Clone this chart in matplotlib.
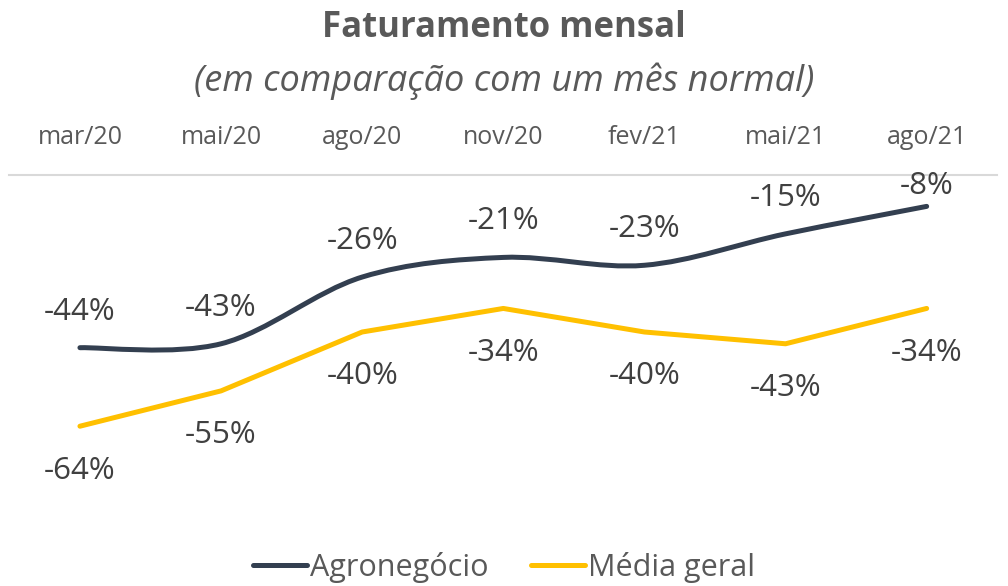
import matplotlib.pyplot as plt
from matplotlib.path import Path
from matplotlib.patches import PathPatch
from matplotlib.lines import Line2D

meses = ["mar/20", "mai/20", "ago/20", "nov/20", "fev/21", "mai/21", "ago/21"]
agro = [-44, -43, -26, -21, -23, -15, -8]
media = [-64, -55, -40, -34, -40, -43, -34]

COR_AGRO = "#333F50"
COR_MEDIA = "#FFC000"
COR_TEXTO = "#404040"
COR_CINZA = "#595959"

plt.rcParams["font.family"] = ["Open Sans", "DejaVu Sans"]


def curva_suave(xs, ys):
    # spline tipo Catmull-Rom convertida em Bezier (como a linha suavizada do Excel)
    pts = list(zip(xs, ys))
    n = len(pts)
    verts = [pts[0]]
    codes = [Path.MOVETO]
    for i in range(n - 1):
        p0 = pts[i - 1] if i > 0 else pts[i]
        p1 = pts[i]
        p2 = pts[i + 1]
        p3 = pts[i + 2] if i + 2 < n else pts[i + 1]
        c1 = (p1[0] + (p2[0] - p0[0]) / 6, p1[1] + (p2[1] - p0[1]) / 6)
        c2 = (p2[0] - (p3[0] - p1[0]) / 6, p2[1] - (p3[1] - p1[1]) / 6)
        verts += [c1, c2, p2]
        codes += [Path.CURVE4] * 3
    return Path(verts, codes)


fig = plt.figure(figsize=(10.08, 5.86), dpi=100)
ax = fig.add_axes([0.0093, 0.1655, 0.980, 0.5359])

x = list(range(len(meses)))

ax.add_patch(PathPatch(curva_suave(x, agro), fill=False, edgecolor=COR_AGRO,
                       lw=3.6, capstyle="round", joinstyle="round", zorder=3))
ax.plot(x, media, color=COR_MEDIA, lw=3.6, solid_capstyle="round",
        solid_joinstyle="round", zorder=3)

for xi, v in zip(x, agro):
    dy = 15 if v > -10 else 26
    ax.annotate(f"{v}%", (xi, v), xytext=(0, dy), textcoords="offset points",
                ha="center", va="center", fontsize=22.5, color=COR_TEXTO)
for xi, v in zip(x, media):
    ax.annotate(f"{v}%", (xi, v), xytext=(0, -32), textcoords="offset points",
                ha="center", va="center", fontsize=22.5, color=COR_TEXTO)

ax.set_xlim(-0.5, len(meses) - 0.5)
ax.set_ylim(-80, 0)
ax.set_xticks(x)
ax.set_xticklabels(meses)
ax.xaxis.tick_top()
ax.tick_params(axis="x", length=0, pad=18, labelsize=18, labelcolor=COR_CINZA)
ax.set_yticks([])
for lado in ["left", "right", "bottom"]:
    ax.spines[lado].set_visible(False)
ax.spines["top"].set_color("#D9D9D9")
ax.spines["top"].set_linewidth(1.5)

fig.text(0.5, 0.952, "Faturamento mensal", ha="center", va="center",
         fontsize=25, fontweight="bold", color=COR_CINZA)
fig.text(0.5, 0.862, "(em comparação com um mês normal)", ha="center", va="center",
         fontsize=26, style="italic", color=COR_CINZA)

handles = [Line2D([], [], color=COR_AGRO, lw=3.6, solid_capstyle="round"),
           Line2D([], [], color=COR_MEDIA, lw=3.6, solid_capstyle="round")]
leg = fig.legend(handles, ["Agronegócio", "Média geral"], loc="center",
                 bbox_to_anchor=(0.5, 0.032), ncol=2, frameon=False,
                 fontsize=22, handlelength=1.75, handletextpad=0.1,
                 columnspacing=1.4)
for t in leg.get_texts():
    t.set_color(COR_CINZA)

fig.savefig("out.png", dpi=100)
